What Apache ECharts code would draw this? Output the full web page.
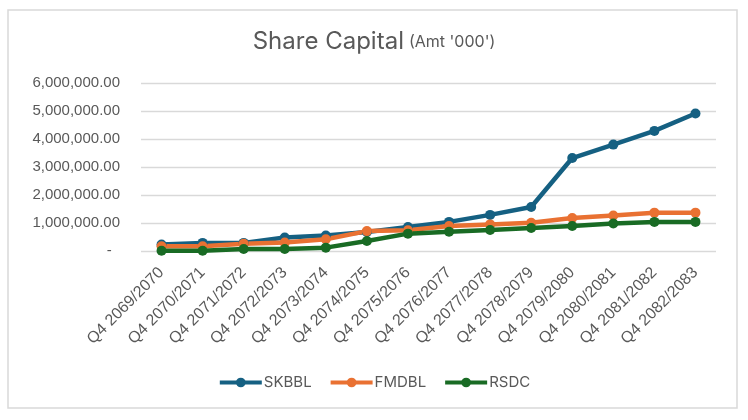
<!DOCTYPE html>
<html>
<head>
<meta charset="utf-8">
<script src="https://cdn.jsdelivr.net/npm/echarts@6/dist/echarts.min.js"></script>
<style>
  html, body { margin: 0; padding: 0; background: #fff; }
  #chart { width: 748px; height: 420px; }
</style>
</head>
<body>
<div id="chart"></div>
<script>
  // 数据
  var categories = ['Q4 2069/2070', 'Q4 2070/2071', 'Q4 2071/2072', 'Q4 2072/2073', 'Q4 2073/2074',
    'Q4 2074/2075', 'Q4 2075/2076', 'Q4 2076/2077', 'Q4 2077/2078', 'Q4 2078/2079',
    'Q4 2079/2080', 'Q4 2080/2081', 'Q4 2081/2082', 'Q4 2082/2083'];
  var skbbl = [230000, 290000, 290000, 480000, 550000, 680000, 860000, 1040000, 1290000, 1570000, 3320000, 3800000, 4290000, 4910000];
  var fmdbl = [170000, 170000, 260000, 300000, 420000, 710000, 740000, 890000, 950000, 1010000, 1180000, 1270000, 1370000, 1370000];
  var rsdc = [10000, 10000, 70000, 70000, 120000, 360000, 620000, 690000, 750000, 820000, 890000, 980000, 1040000, 1040000];

  var chart = echarts.init(document.getElementById('chart'));

  function makeLine(name, data, color) {
    return {
      name: name,
      type: 'line',
      data: data,
      symbol: 'circle',
      symbolSize: 10,
      lineStyle: { width: 4.5, color: color },
      itemStyle: { color: color }
    };
  }

  var option = {
    animation: false,
    backgroundColor: '#fff',
    textStyle: { fontFamily: 'Liberation Sans' },
    graphic: [{
      type: 'rect',
      shape: { x: 8, y: 10, width: 729, height: 398 },
      style: { fill: 'none', stroke: '#d9d9d9', lineWidth: 1.5 },
      silent: true
    }],
    title: {
      text: '{a|Share Capital} {b|(Amt \'000\')}',
      left: 'center',
      top: 25,
      textStyle: {
        fontWeight: 'normal',
        rich: {
          a: { fontSize: 24, color: '#595959', fontFamily: 'Inter', fontWeight: 'normal' },
          b: { fontSize: 16, color: '#595959', fontFamily: 'Inter', fontWeight: 'normal' }
        }
      }
    },
    legend: {
      data: ['SKBBL', 'FMDBL', 'RSDC'],
      top: 370,
      left: 'center',
      itemWidth: 42,
      itemHeight: 12,
      itemGap: 17,
      lineStyle: { width: 4 },
      textStyle: { fontSize: 15, color: '#595959', fontFamily: 'Inter', padding: [0, 0, 0, -3] }
    },
    grid: { left: 141, right: 32, top: 83, bottom: 169 },
    xAxis: {
      type: 'category',
      data: categories,
      axisLine: { show: false },
      axisTick: { show: false },
      axisLabel: { rotate: 45, fontSize: 16, color: '#595959', margin: 19, interval: 0 }
    },
    yAxis: {
      type: 'value',
      min: 0,
      max: 6000000,
      interval: 1000000,
      axisLine: { show: false },
      axisTick: { show: false },
      splitLine: { lineStyle: { color: '#d9d9d9', width: 1.3 } },
      axisLabel: {
        fontSize: 15,
        color: '#595959',
        margin: 21,
        formatter: function (v) {
          if (v === 0) return '-  ';
          return v.toLocaleString('en-US', { minimumFractionDigits: 2, maximumFractionDigits: 2 });
        }
      }
    },
    series: [
      makeLine('SKBBL', skbbl, '#156082'),
      makeLine('FMDBL', fmdbl, '#E97132'),
      makeLine('RSDC', rsdc, '#196B24')
    ]
  };

  chart.setOption(option);
</script>
</body>
</html>
